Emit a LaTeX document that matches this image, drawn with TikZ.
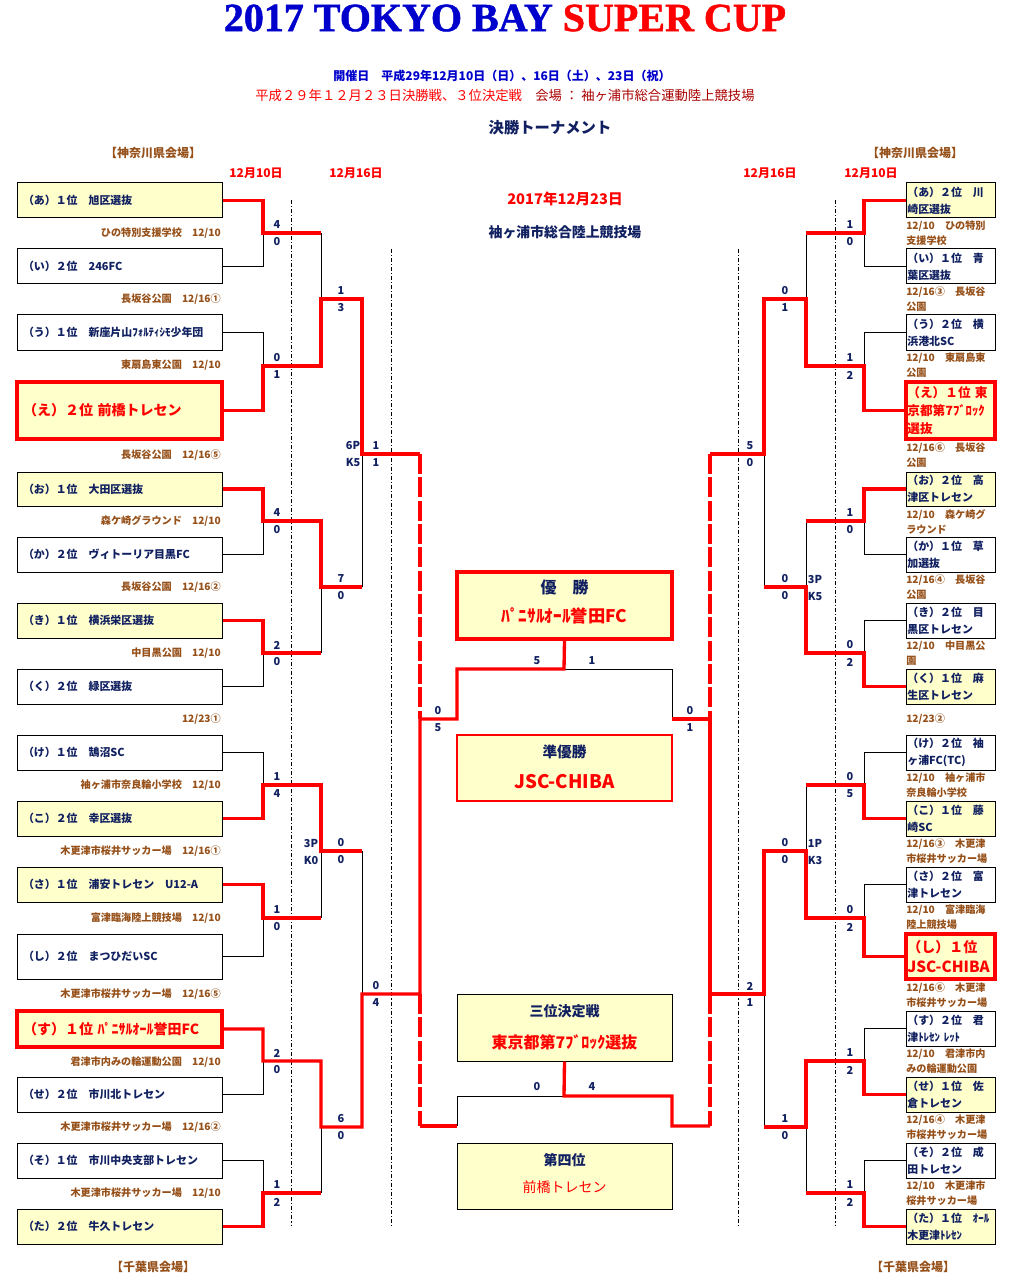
\documentclass[tikz,border=0pt]{standalone}
\usepackage{fontspec}
\setmainfont{Noto Sans CJK JP}
\newfontfamily\ttlfont{Liberation Serif Bold}[FakeBold=1.2]
\definecolor{navy}{RGB}{16,32,96}
\definecolor{brn}{RGB}{150,80,25}
\definecolor{yel}{RGB}{255,255,204}
\definecolor{tblue}{RGB}{0,0,204}
\definecolor{dred}{RGB}{170,0,0}
\newcommand\myteam{\fontsize{8.2}{10}\selectfont\bfseries}
\newcommand\myrteam{\fontsize{8.2}{12.75}\selectfont\bfseries}
\newcommand\myven{\fontsize{7.6}{11.25}\selectfont\bfseries}
\newcommand\myscore{\fontsize{8.2}{10}\selectfont\bfseries}
\newcommand\mybig{\fontsize{10.5}{13.5}\selectfont\bfseries}
\tikzset{
  bk/.style={draw=black, line width=0.75pt},
  rd/.style={draw=red, line width=2.5pt, line join=miter},
  rdd/.style={draw=red, line width=2.5pt, dash pattern=on 15pt off 2.5pt},
  dd/.style={draw=black, line width=0.6pt, dash pattern=on 3pt off 1.5pt on 0.8pt off 1.5pt},
  sc/.style={font=\myscore, text=navy, inner sep=0pt},
  lb/.style={draw=black, line width=0.75pt, text width=144.75pt, inner xsep=4.5pt, inner ysep=0pt, align=left, font=\myteam, text=navy, minimum height=26.25pt},
  rb/.style={draw=black, line width=0.75pt, text width=64.75pt, inner xsep=1pt, inner ysep=0pt, align=left, font=\myrteam, text=navy, minimum height=26.25pt},
  win/.style={fill=yel},
  hot/.style={draw=red, line width=2.5pt, text=red, fill=yel, font=\mybig},
  bh/.style={minimum height=#1*0.75pt},
  lv/.style={font=\myven, text=brn, anchor=east, inner sep=0pt},
  rv/.style={font=\myven, text=brn, anchor=west, inner sep=0pt, align=left},
  cbox/.style={draw=black, line width=0.75pt, fill=yel, minimum width=161.25pt},
  hd/.style={font=\fontsize{9}{10}\selectfont\bfseries, inner sep=0pt}
}
\begin{document}
\begin{tikzpicture}[x=0.75pt,y=-0.75pt]
\useasboundingbox (0,0) rectangle (1015,1287);
\fill[white] (0,0) rectangle (1015,1287);

% headers
\node[inner sep=0pt, font=\ttlfont\fontsize{30}{31}\selectfont] (title) at (505,18) {\textcolor{tblue}{2017 TOKYO BAY} \textcolor{red}{SUPER CUP}};
\node[hd, text=tblue] (hl1) at (502,76) {開催日　平成29年12月10日（日）、16日（土）、23日（祝）};
\node[inner sep=0pt, font=\fontsize{10}{11}\selectfont] (hl2) at (505,95) {\textcolor{red}{平成２９年１２月２３日決勝戦、３位決定戦}　\textcolor{dred}{会場 ： 袖ヶ浦市総合運動陸上競技場}};
\node[inner sep=0pt, font=\fontsize{11.5}{12}\selectfont\bfseries, text=navy] (ht) at (550,128) {決勝トーナメント};
\node[hd, text=brn] (kl) at (153,153) {【神奈川県会場】};
\node[hd, text=brn] (kr) at (915,153) {【神奈川県会場】};
\node[hd, text=brn] (cl) at (153,1267) {【千葉県会場】};
\node[hd, text=brn] (cr) at (913,1267) {【千葉県会場】};
\node[hd, text=red] (d1) at (256,173) {12月10日};
\node[hd, text=red] (d2) at (356,173) {12月16日};
\node[hd, text=red] (d3) at (770,173) {12月16日};
\node[hd, text=red] (d4) at (871,173) {12月10日};
\node[inner sep=0pt, font=\fontsize{11}{12}\selectfont\bfseries, text=red] (cdate) at (565,199) {2017年12月23日};
\node[inner sep=0pt, font=\fontsize{10.4}{12}\selectfont\bfseries, text=navy] (cven) at (565,232) {袖ヶ浦市総合陸上競技場};

% dash-dot guide lines
\draw[dd] (291,200) -- (291,1226);
\draw[dd] (391,249) -- (391,1226);
\draw[dd] (738,249) -- (738,1226);
\draw[dd] (835,200) -- (835,1226);

% left boxes
\node[lb, win, bh=35] (L1) at (119.5,200.5) {（あ）１位　旭区選抜};
\node[lb, bh=35] (L2) at (119.5,266.5) {（い）２位　246FC};
\node[lb, bh=35] (L3) at (119.5,332.5) {（う）１位　新座片山ﾌｫﾙﾃｨｼﾓ少年団};
\node[lb, hot, bh=57] (L4) at (119.5,410.5) {（え）２位 前橋トレセン};
\node[lb, win, bh=34] (L5) at (119.5,489) {（お）１位　大田区選抜};
\node[lb, bh=35] (L6) at (119.5,554.5) {（か）２位　ヴィトーリア目黒FC};
\node[lb, win, bh=35] (L7) at (119.5,620.5) {（き）１位　横浜栄区選抜};
\node[lb, bh=35] (L8) at (119.5,686.5) {（く）２位　緑区選抜};
\node[lb, bh=35] (L9) at (119.5,752.5) {（け）１位　鵠沼SC};
\node[lb, win, bh=35] (L10) at (119.5,818.5) {（こ）２位　幸区選抜};
\node[lb, win, bh=35] (L11) at (119.5,884.5) {（さ）１位　浦安トレセン　U12-A};
\node[lb, bh=45] (L12) at (119.5,956.5) {（し）２位　まつひだいSC};
\node[lb, hot, bh=36] (L13) at (119.5,1029) {（す）１位 ﾊﾟﾆｻﾙｵｰﾙ誉田FC};
\node[lb, bh=35] (L14) at (119.5,1094.5) {（せ）２位　市川北トレセン};
\node[lb, bh=35] (L15) at (119.5,1160.5) {（そ）１位　市川中央支部トレセン};
\node[lb, win, bh=35] (L16) at (119.5,1226.5) {（た）２位　牛久トレセン};

% left venues
\foreach \y/\t [count=\i] in {233/{ひの特別支援学校　12/10},299/{長坂谷公園　12/16①},365/{東扇島東公園　12/10},455/{長坂谷公園　12/16⑤},521/{森ケ崎グラウンド　12/10},587/{長坂谷公園　12/16②},653/{中目黒公園　12/10},719/{12/23①},785/{袖ヶ浦市奈良輪小学校　12/10},851/{木更津市桜井サッカー場　12/16①},918/{富津臨海陸上競技場　12/10},994/{木更津市桜井サッカー場　12/16⑤},1062/{君津市内みの輪運動公園　12/10},1127/{木更津市桜井サッカー場　12/16②},1193/{木更津市桜井サッカー場　12/10}}
  {\node[lv] (lv\i) at (221,\y) {\t};}

% right boxes
\node[rb, win, bh=35] (R1) at (950.5,200.5) {（あ）２位　川\\崎区選抜};
\node[rb, bh=35] (R2) at (950.5,266.5) {（い）１位　青\\葉区選抜};
\node[rb, bh=35] (R3) at (950.5,332.5) {（う）２位　横\\浜港北SC};
\node[rb, hot, bh=57, font=\fontsize{9.5}{13.5}\selectfont\bfseries] (R4) at (950.5,410.5) {（え）１位 東\\京都第7ﾌﾞﾛｯｸ\\選抜};
\node[rb, win, bh=34] (R5) at (950.5,489) {（お）２位　高\\津区トレセン};
\node[rb, bh=35] (R6) at (950.5,554.5) {（か）１位　草\\加選抜};
\node[rb, bh=35] (R7) at (950.5,620.5) {（き）２位　目\\黒区トレセン};
\node[rb, win, bh=35] (R8) at (950.5,686.5) {（く）１位　麻\\生区トレセン};
\node[rb, bh=35] (R9) at (950.5,752.5) {（け）２位　袖\\ヶ浦FC(TC)};
\node[rb, win, bh=35] (R10) at (950.5,818.5) {（こ）１位　藤\\崎SC};
\node[rb, bh=35] (R11) at (950.5,884.5) {（さ）２位　富\\津トレセン};
\node[rb, hot, bh=45, font=\fontsize{10.5}{15.5}\selectfont\bfseries] (R12) at (950.5,956.5) {（し）１位\\{\fontsize{11.5}{15.5}\selectfont JSC-CHIBA}};
\node[rb, bh=35] (R13) at (950.5,1028.5) {（す）２位　君\\津ﾄﾚｾﾝ ﾚｯﾄ};
\node[rb, win, bh=35] (R14) at (950.5,1094.5) {（せ）１位　佐\\倉トレセン};
\node[rb, bh=35] (R15) at (950.5,1160.5) {（そ）２位　成\\田トレセン};
\node[rb, win, bh=35] (R16) at (950.5,1226.5) {（た）１位　ｵｰﾙ\\木更津ﾄﾚｾﾝ};

% right venues
\foreach \y/\t [count=\i] in {233.5/{12/10　ひの特別\\支援学校},299.5/{12/16③　長坂谷\\公園},365.5/{12/10　東扇島東\\公園},455.5/{12/16⑥　長坂谷\\公園},521.5/{12/10　森ケ崎グ\\ラウンド},587.5/{12/16④　長坂谷\\公園},653.5/{12/10　中目黒公\\園},719/{12/23②},785.5/{12/10　袖ヶ浦市\\奈良輪小学校},851.5/{12/16③　木更津\\市桜井サッカー場},917.5/{12/10　富津臨海\\陸上競技場},995.5/{12/16⑥　木更津\\市桜井サッカー場},1061.5/{12/10　君津市内\\みの輪運動公園},1127.5/{12/16④　木更津\\市桜井サッカー場},1193.5/{12/10　木更津市\\桜井サッカー場}}
  {\node[rv] (rv\i) at (906,\y) {\t};}

% centre boxes
\node[cbox, draw=red, line width=2.5pt, bh=67] (champ) at (564.5,605.5) {};
\node[cbox, draw=red, line width=1pt, bh=66] (runner) at (564.5,768) {};
\node[cbox, bh=67] (third) at (564.5,1027.5) {};
\node[cbox, bh=66] (fourth) at (564.5,1176) {};
\node[inner sep=0pt, font=\fontsize{12}{13}\selectfont\bfseries, text=navy] (t1) at (564.5,587) {優　勝};
\node[inner sep=0pt, font=\fontsize{13}{14}\selectfont\bfseries, text=red] (t2) at (564.5,616) {ﾊﾟﾆｻﾙｵｰﾙ誉田FC};
\node[inner sep=0pt, font=\fontsize{11}{12}\selectfont\bfseries, text=navy] (t3) at (564.5,752) {準優勝};
\node[inner sep=0pt, font=\fontsize{14}{15}\selectfont\bfseries, text=red] (t4) at (564.5,782) {JSC-CHIBA};
\node[inner sep=0pt, font=\fontsize{10.5}{12}\selectfont\bfseries, text=navy] (t5) at (564.5,1011) {三位決定戦};
\node[inner sep=0pt, font=\fontsize{12}{13}\selectfont\bfseries, text=red] (t6) at (564.5,1042) {東京都第7ﾌﾞﾛｯｸ選抜};
\node[inner sep=0pt, font=\fontsize{10.5}{12}\selectfont\bfseries, text=navy] (t7) at (564.5,1160) {第四位};
\node[inner sep=0pt, font=\fontsize{10.5}{12}\selectfont, text=red] (t8) at (564.5,1187) {前橋トレセン};

% ---------- left black lines
\draw[bk] (L2.east) -| (263,233);
\draw[bk] (L3.east) -| (263,366);
\draw[bk] (L6.east) -| (263,521);
\draw[bk] (L8.east) -| (263,653);
\draw[bk] (L9.east) -| (263,785);
\draw[bk] (L12.east) -| (263,918);
\draw[bk] (L14.east) -| (263,1061);
\draw[bk] (L15.east) -| (263,1193);
\draw[bk] (321,233) -- (321,299);
\draw[bk] (321,653) -- (321,587);
\draw[bk] (321,918) -- (321,851);
\draw[bk] (321,1193) -- (321,1127);
\draw[bk] (362,587) -- (362,454);
\draw[bk] (362,851) -- (362,994);
% ---------- right black lines
\draw[bk] (R2.west) -| (864,233);
\draw[bk] (R3.west) -| (864,366);
\draw[bk] (R6.west) -| (864,521);
\draw[bk] (R7.west) -| (864,653);
\draw[bk] (R9.west) -| (864,785);
\draw[bk] (R11.west) -| (864,918);
\draw[bk] (R13.west) -| (864,1061);
\draw[bk] (R15.west) -| (864,1193);
\draw[bk] (806,233) -- (806,299);
\draw[bk] (806,521) -- (806,587);
\draw[bk] (806,785) -- (806,851);
\draw[bk] (806,1193) -- (806,1127);
\draw[bk] (764,587) -- (764,454);
\draw[bk] (764,1127) -- (764,994);
% centre black
\draw[bk] (672,719) -- (672,669) -- (564,669);
\draw[bk] (457,1126) -- (457,1096) -- (564,1096);

% ---------- red lines left
\draw[rd] (L1.east) -| (263,233) -- (321,233);
\draw[rd] (L4.east) -| (263,366) -- (321,366) -- (321,299) -- (362,299) -- (362,454) -- (420,454);
\draw[rd] (L5.east) -| (263,521) -- (321,521) -- (321,587) -- (362,587);
\draw[rd] (L7.east) -| (263,653) -- (321,653);
\draw[rd] (L10.east) -| (263,785) -- (321,785) -- (321,851) -- (362,851);
\draw[rd] (L11.east) -| (263,918) -- (321,918);
\draw[rd] (L13.east) -| (263,1061) -- (321,1061) -- (321,1127) -- (362,1127) -- (362,994) -- (420,994) -- (420,719) -- (457,719) -- (457,669) -- (564,669) -- (champ.south);
\draw[rd] (L16.east) -| (263,1193) -- (321,1193);
\draw[rdd] (420,454) -- (420,719);
\draw[rdd] (420,994) -- (420,1126);
\draw[rd] (420,1126) -- (457,1126);
% ---------- red lines right
\draw[rd] (R1.west) -| (864,233) -- (806,233);
\draw[rd] (R4.west) -| (864,366) -- (806,366) -- (806,299) -- (764,299) -- (764,454) -- (710,454);
\draw[rd] (R5.west) -| (864,521) -- (806,521);
\draw[rd] (R8.west) -| (864,653) -- (806,653) -- (806,587) -- (764,587);
\draw[rd] (R10.west) -| (864,785) -- (806,785);
\draw[rd] (R12.west) -| (864,918) -- (806,918) -- (806,851) -- (764,851) -- (764,994) -- (710,994) -- (710,719) -- (672,719);
\draw[rd] (R14.west) -| (864,1061) -- (806,1061) -- (806,1127) -- (764,1127);
\draw[rd] (R16.west) -| (864,1193) -- (806,1193);
\draw[rdd] (710,454) -- (710,719);
\draw[rdd] (710,994) -- (710,1126);
\draw[rd] (third.south) -- (564,1096) -- (672,1096) -- (672,1126) -- (710,1126);

% ---------- scores
\foreach \x/\j/\a/\b [count=\i] in {277/233/4/0,277/366/0/1,277/521/4/0,277/653/2/0,277/785/1/4,277/918/1/0,277/1061/2/0,277/1193/1/2,
  341/299/1/3,341/587/7/0,341/851/0/0,341/1127/6/0,376/454/1/1,376/994/0/4,438/719/0/5,690/719/0/1,
  311/851/3P/K0,353/454/6P/K5,
  850/233/1/0,850/366/1/2,850/521/1/0,850/653/0/2,850/785/0/5,850/918/0/2,850/1061/1/2,850/1193/1/2,
  785/299/0/1,785/587/0/0,785/851/0/0,785/1127/1/0,750/454/5/0,750/994/2/1,
  815/587/3P/K5,815/851/1P/K3}
  {\node[sc] (sa\i) at (\x,\j-8) {\a}; \node[sc] (sb\i) at (\x,\j+9) {\b};}
\node[sc] (f1) at (537,661) {5};
\node[sc] (f2) at (592,661) {1};
\node[sc] (f3) at (537,1087) {0};
\node[sc] (f4) at (592,1087) {4};
\end{tikzpicture}
\end{document}
